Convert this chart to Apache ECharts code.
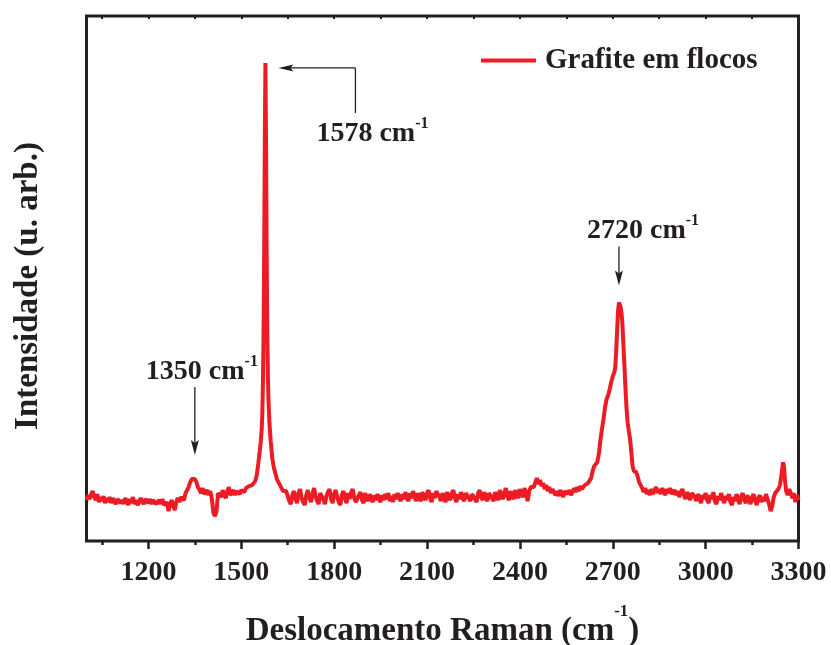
<!DOCTYPE html>
<html>
<head>
<meta charset="utf-8">
<script src="https://cdn.jsdelivr.net/npm/echarts@6/dist/echarts.min.js"></script>
<style>
  html, body { margin: 0; padding: 0; background: #fff; }
  #chart { width: 831px; height: 645px; }
</style>
</head>
<body>
<div id="chart"></div>
<script>
// Raman spectrum of flake graphite: [Raman shift (cm-1), intensity (a.u.)]
const dBandRegion = [
  [1000,82],[1005,92],[1010,84],[1015,94],[1020,100],[1025,88],[1030,82],[1035,94],[1040,78],[1045,88],
  [1050,80],[1055,90],[1060,76],[1065,86],[1070,78],[1075,88],[1080,76],[1085,86],[1090,80],[1095,74],
  [1100,84],[1105,88],[1110,76],[1115,82],[1120,74],[1125,86],[1130,80],[1135,72],[1140,84],[1145,76],
  [1150,88],[1155,74],[1160,82],[1165,72],[1170,78],[1175,86],[1180,80],[1185,74],[1190,84],[1195,88],
  [1200,76],[1205,84],[1210,74],[1215,82],[1220,86],[1225,74],[1230,70],[1235,82],[1240,74],[1245,84],
  [1250,72],[1255,68],[1260,78],[1265,60],[1270,72],[1275,82],[1280,72],[1285,62],[1290,78],[1295,86],
  [1300,78],[1305,88],[1310,92],[1315,82],[1320,96],[1325,98],[1330,108],[1335,118],[1340,124],[1345,126],
  [1350,124],[1355,118],[1360,108],[1365,104],[1370,96],[1375,106],[1380,94],[1385,90],[1390,102],[1395,92],
  [1400,100],[1405,84],[1410,56],[1415,50],[1420,60],[1425,96],[1430,100],[1435,88],[1440,102],[1445,92],
  [1450,86],[1455,100],[1460,108],[1465,92],[1470,96],[1475,102],[1480,92],[1485,100],[1490,104],[1495,94],
  [1500,102],[1505,106],[1510,98],[1515,106]
];
const gBandRegion = [
  [1520,104],[1525,110],[1530,108],[1535,112],[1540,116],[1545,120],[1550,132],[1555,156],[1560,182],
  [1563,200],[1566,224],[1568,254],[1570,320],[1572,420],[1574,580],[1576,800],[1578,958],[1580,800],
  [1582,580],[1584,420],[1586,330],[1588,280],[1591,236],[1595,200],[1600,166],[1605,148],[1610,136],
  [1615,124],[1620,118],[1625,112],[1630,108],[1635,100],[1640,96],[1645,100],[1650,90]
];
const midRegion = [
  [1655,80],[1660,74],[1665,92],[1670,100],[1675,84],[1680,76],[1685,96],[1690,104],[1695,86],
  [1700,78],[1705,72],[1710,92],[1715,102],[1720,88],[1725,78],[1730,94],[1735,106],[1740,90],[1745,80],
  [1750,74],[1755,96],[1760,100],[1765,84],[1770,74],[1775,90],[1780,98],[1785,104],[1790,84],[1795,76],
  [1800,94],[1805,102],[1810,88],[1815,78],[1820,72],[1825,92],[1830,100],[1835,86],[1840,76],[1845,96],
  [1850,84],[1855,98],[1860,104],[1865,86],[1870,78],[1875,74],[1880,92],[1885,98],[1890,82],[1895,76],
  [1900,96],[1905,86],[1910,80],[1915,94],[1920,84],[1925,78],[1930,92],[1935,82],[1940,94],[1945,84],
  [1950,78],[1955,92],[1960,82],[1965,94],[1970,84],[1975,96],[1980,80],[1985,90],[1990,78],[1995,94],
  [2000,84],[2005,96],[2010,86],[2015,80],[2020,94],[2025,84],[2030,98],[2035,86],[2040,80],[2045,96],
  [2050,86],[2055,100],[2060,88],[2065,80],[2070,96],[2075,86],[2080,80],[2085,98],[2090,88],[2095,82],
  [2100,96],[2105,102],[2110,86],[2115,78],[2120,96],[2125,86],[2130,100],[2135,104],[2140,88],[2145,80],
  [2150,96],[2155,86],[2160,78],[2165,98],[2170,88],[2175,82],[2180,96],[2185,102],[2190,86],[2195,78],
  [2200,94],[2205,84],[2210,98],[2215,86],[2220,80],[2225,96],[2230,100],[2235,86],[2240,80],[2245,94],
  [2250,98],[2255,84],[2260,78],[2265,96],[2270,102],[2275,88],[2280,82],[2285,98],[2290,86],[2295,80],
  [2300,96],[2305,100],[2310,86],[2315,80],[2320,98],[2325,88],[2330,82],[2335,102],[2340,90],[2345,84],
  [2350,98],[2355,106],[2360,88],[2365,82],[2370,100],[2375,90],[2380,84],[2385,102],[2390,92],[2395,86],
  [2400,104],[2405,94],[2410,88],[2415,106],[2420,96],[2425,80],[2430,100],[2435,108],[2440,112],[2445,108],
  [2450,118],[2455,126],[2460,114],[2465,122],[2470,110],[2475,116],[2480,104],[2485,112],[2490,100],[2495,108],
  [2500,96],[2505,104],[2510,100],[2515,92],[2520,100],[2525,90],[2530,102],[2535,96],[2540,88],[2545,100],
  [2550,104],[2555,94],[2560,102],[2565,92],[2570,98],[2575,106],[2580,98],[2585,108],[2590,100],[2595,110],
  [2600,104]
];
const twoDRegion = [
  [2605,108],[2610,112],[2615,110],[2620,116],[2625,120],[2630,126],[2635,140],[2640,150],[2645,154],
  [2650,158],[2655,174],[2660,202],[2665,224],[2670,244],[2675,268],[2680,284],[2685,292],[2690,304],
  [2695,318],[2700,330],[2705,338],[2708,348],[2711,380],[2714,420],[2717,460],[2720,478],[2722,476],
  [2725,470],[2728,458],[2731,436],[2734,398],[2737,360],[2740,320],[2744,270],[2748,238],[2752,220],
  [2756,204],[2760,178],[2764,150],[2768,140],[2772,136],[2776,138],[2780,130],[2785,118],[2790,112],
  [2795,106],[2800,98],[2805,106],[2810,94],[2815,102],[2820,92],[2825,104],[2830,94],[2835,102],
  [2840,108],[2845,96],[2850,104],[2855,94],[2860,106],[2865,98],[2870,92],[2875,104],[2880,96],
  [2885,106],[2890,94],[2895,90],[2900,102],[2905,92]
];
const tailRegion = [
  [2910,100],[2915,88],[2920,98],[2925,104],[2930,92],[2935,84],[2940,98],[2945,90],[2950,82],[2955,96],
  [2960,100],[2965,88],[2970,80],[2975,94],[2980,86],[2985,76],[2990,92],[2995,84],[3000,96],[3005,82],
  [3010,76],[3015,92],[3020,84],[3025,98],[3030,80],[3035,74],[3040,90],[3045,82],[3050,96],[3055,84],
  [3060,76],[3065,90],[3070,82],[3075,94],[3080,78],[3085,72],[3090,88],[3095,80],[3100,94],[3105,82],
  [3110,74],[3115,90],[3120,96],[3125,82],[3130,76],[3135,92],[3140,82],[3145,74],[3150,88],[3155,94],
  [3160,80],[3165,72],[3170,86],[3175,92],[3180,78],[3185,88],[3190,80],[3195,94],[3200,84],[3205,74],
  [3210,60],[3215,70],[3220,88],[3225,96],[3230,92],[3235,104],[3240,112],[3245,132],[3250,158],[3253,150],
  [3256,124],[3260,100],[3265,92],[3270,104],[3275,96],[3280,86],[3285,96],[3290,78],[3295,92],[3300,82]
];

const spectrum = [].concat(dBandRegion, gBandRegion, midRegion, twoDRegion, tailRegion);

// Axis ticks
const majorTicks = [1200, 1500, 1800, 2100, 2400, 2700, 3000, 3300];
const minorTicks = [1050, 1350, 1650, 1950, 2250, 2550, 2850, 3150];

// Band annotations
const bandShifts = [1350, 1578, 2720];
const bandLabels = ['1350 cm', '1578 cm', '2720 cm'];
const seriesName = 'Grafite em flocos';

const FONT = '"Liberation Serif", "Times New Roman", Times, serif';
const INK = '#231f20';
const RED = '#ed1c24';

const chart = echarts.init(document.getElementById('chart'), null, { renderer: 'canvas' });

const hiddenLabel = { show: false };
const noSplit = { show: false };

chart.setOption({
  animation: false,
  backgroundColor: '#fff',
  grid: {
    left: 86.5, right: 32.5, top: 16, bottom: 104,
    show: true, borderColor: INK, borderWidth: 3, backgroundColor: 'transparent'
  },
  legend: {
    left: 476, top: 41,
    itemWidth: 55, itemHeight: 4,
    icon: 'rect',
    data: [seriesName],
    selectedMode: false,
    textStyle: {
      fontFamily: FONT, fontWeight: 'bold', fontSize: 29, color: INK,
      padding: [0, 0, 0, 4]
    }
  },
  xAxis: [
    {
      type: 'value', min: 1000, max: 3300, position: 'bottom',
      axisLine: { show: false }, splitLine: noSplit,
      axisTick: { show: true, inside: false, length: 8, customValues: majorTicks,
        lineStyle: { color: INK, width: 2.5 } },
      axisLabel: { show: true, customValues: majorTicks, margin: 18,
        formatter: v => String(v),
        fontFamily: FONT, fontWeight: 'bold', fontSize: 28, color: INK }
    },
    {
      type: 'value', min: 1000, max: 3300, position: 'bottom', offset: 0,
      axisLine: { show: false }, splitLine: noSplit, axisLabel: hiddenLabel,
      axisTick: { show: true, inside: false, length: 4, customValues: minorTicks,
        lineStyle: { color: INK, width: 2.5 } }
    },
    {
      type: 'value', min: 1000, max: 3300, position: 'top',
      axisLine: { show: false }, splitLine: noSplit, axisLabel: hiddenLabel,
      axisTick: { show: true, inside: true, length: 3, customValues: majorTicks.concat(minorTicks),
        lineStyle: { color: INK, width: 2 } }
    }
  ],
  yAxis: {
    type: 'value', min: 0, max: 1052,
    axisLine: { show: false }, axisTick: { show: false },
    axisLabel: hiddenLabel, splitLine: noSplit
  },
  series: [{
    name: seriesName,
    type: 'line',
    xAxisIndex: 0,
    data: spectrum,
    symbol: 'none',
    showSymbol: false,
    lineStyle: { color: RED, width: 4 },
    itemStyle: { color: RED }
  }]
});

// Annotations placed from the data through the chart's own coordinate system
function toPx(shift, value) {
  return chart.convertToPixel({ xAxisIndex: 0, yAxisIndex: 0 }, [shift, value]);
}
function valueAt(shift) {
  const p = spectrum.find(d => d[0] === shift);
  return p ? p[1] : 0;
}

const richStyles = {
  b: { fontFamily: FONT, fontWeight: 'bold', fontSize: 28, lineHeight: 36, fill: INK, color: INK },
  s: { fontFamily: FONT, fontWeight: 'bold', fontSize: 16, lineHeight: 16, fill: INK, color: INK, verticalAlign: 'top' }
};
function labelText(x, y, main) {
  return {
    type: 'text', silent: true,
    style: {
      x: x, y: y,
      text: '{b|' + main + '}{s|-1}',
      rich: richStyles,
      align: 'left', verticalAlign: 'top', textAlign: 'left', textVerticalAlign: 'top',
      fill: INK
    }
  };
}
function stem(x1, y1, x2, y2) {
  return { type: 'line', silent: true,
    shape: { x1: x1, y1: y1, x2: x2, y2: y2 },
    style: { stroke: INK, lineWidth: 1.3 } };
}
function headDown(x, tipY) {
  return { type: 'polygon', silent: true,
    shape: { points: [[x, tipY], [x - 4, tipY - 15], [x, tipY - 12], [x + 4, tipY - 15]] },
    style: { fill: INK } };
}
function headLeft(tipX, y) {
  return { type: 'polygon', silent: true,
    shape: { points: [[tipX, y], [tipX + 15, y - 3.5], [tipX + 12, y], [tipX + 15, y + 3.5]] },
    style: { fill: INK } };
}

const g = [];

// D band (1350)
{
  const p = toPx(bandShifts[0], valueAt(bandShifts[0]));
  const tip = p[1] - 24, tail = tip - 68;
  g.push(stem(p[0], tail, p[0], tip - 10), headDown(p[0], tip));
  g.push(labelText(p[0] - 49, tip - 101, bandLabels[0]));
}
// G band (1578)
{
  const p = toPx(bandShifts[1], valueAt(bandShifts[1]));
  const y = p[1] + 5, tipX = p[0] + 13, cornerX = p[0] + 90;
  g.push(stem(cornerX, y, tipX + 10, y), stem(cornerX, y, cornerX, p[1] + 50), headLeft(tipX, y));
  g.push(labelText(cornerX - 39, p[1] + 53, bandLabels[1]));
}
// 2D band (2720)
{
  const p = toPx(bandShifts[2], valueAt(bandShifts[2]));
  const tip = p[1] - 17, tail = tip - 39;
  g.push(stem(p[0], tail, p[0], tip - 10), headDown(p[0], tip));
  g.push(labelText(p[0] - 32, tip - 73, bandLabels[2]));
}

// Axis titles
g.push({
  type: 'text', silent: true,
  style: {
    x: 442.5, y: 603,
    text: '{t|Deslocamento Raman (cm}{u|-1}{t|)}',
    rich: {
      t: { fontFamily: FONT, fontWeight: 'bold', fontSize: 33, lineHeight: 57, fill: INK, color: INK },
      u: { fontFamily: FONT, fontWeight: 'bold', fontSize: 17, lineHeight: 17, fill: INK, color: INK, verticalAlign: 'top' }
    },
    align: 'center', verticalAlign: 'top', textAlign: 'center', textVerticalAlign: 'top',
    fill: INK
  }
});
g.push({
  type: 'text', silent: true,
  x: 28.5, y: 286, rotation: Math.PI / 2,
  style: {
    x: 0, y: 0,
    text: 'Intensidade (u. arb.)',
    font: 'bold 33px ' + FONT,
    fill: INK,
    align: 'center', verticalAlign: 'middle', textAlign: 'center', textVerticalAlign: 'middle'
  }
});

chart.setOption({ graphic: g });
</script>
</body>
</html>
